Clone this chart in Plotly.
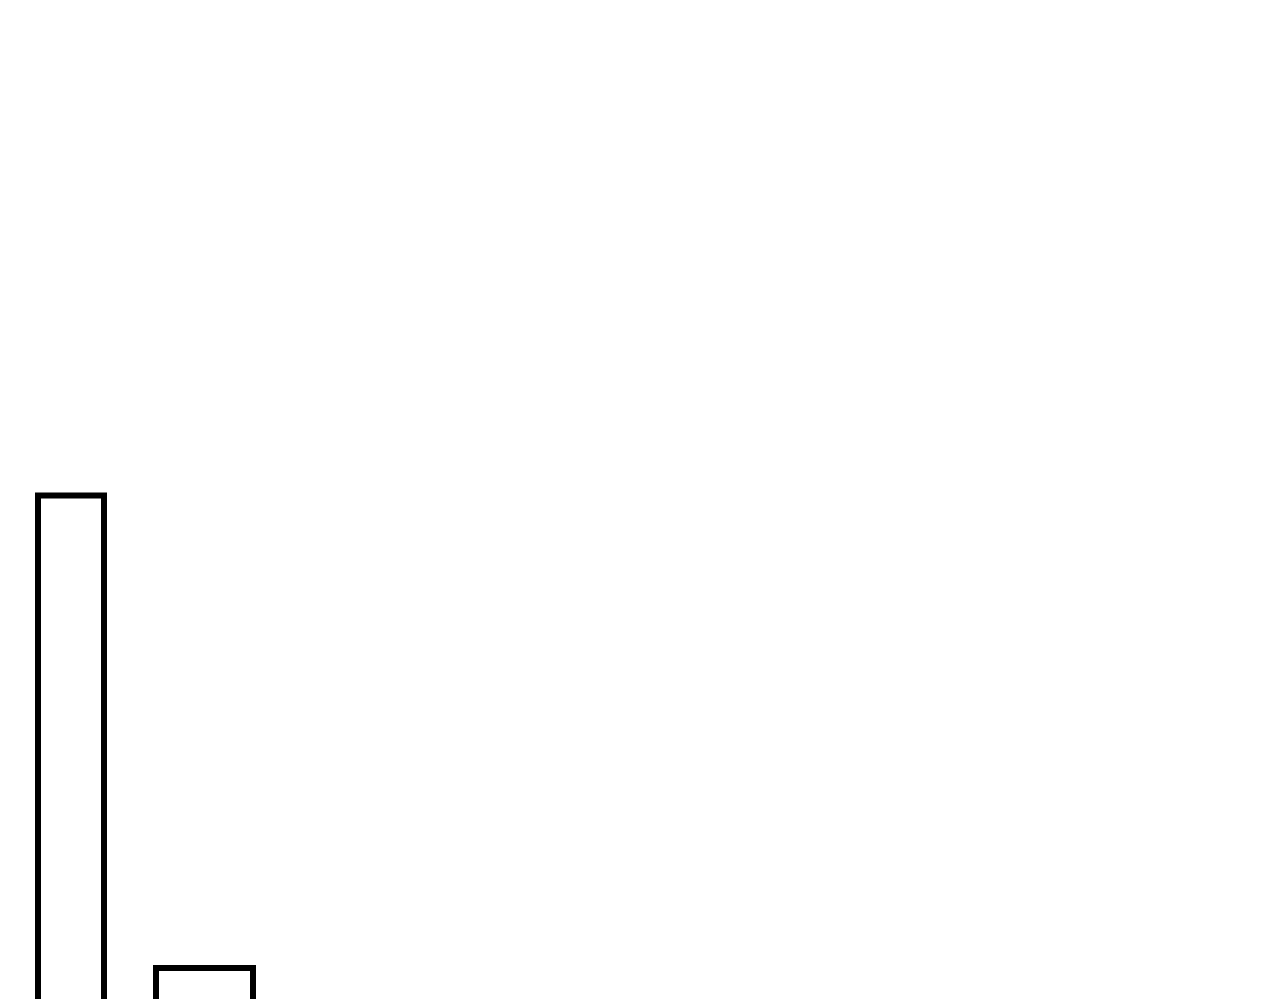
import plotly.graph_objects as go

# histogram-like bars: bin centres, bin widths and counts
bin_centers = [6.3, 19.65]
bin_widths = [6.6, 9.7]
counts = [53.2, 5.9]

fig = go.Figure()
fig.add_trace(go.Bar(
    x=bin_centers,
    y=counts,
    width=bin_widths,
    marker=dict(color="white", line=dict(color="black", width=6)),
    showlegend=False,
))

fig.update_layout(
    width=1280,
    height=999,
    margin=dict(l=0, r=0, t=0, b=0),
    paper_bgcolor="white",
    plot_bgcolor="white",
    xaxis=dict(range=[0, 128], visible=False),
    yaxis=dict(range=[2, 102], visible=False),
)

fig.write_html("out.html")
